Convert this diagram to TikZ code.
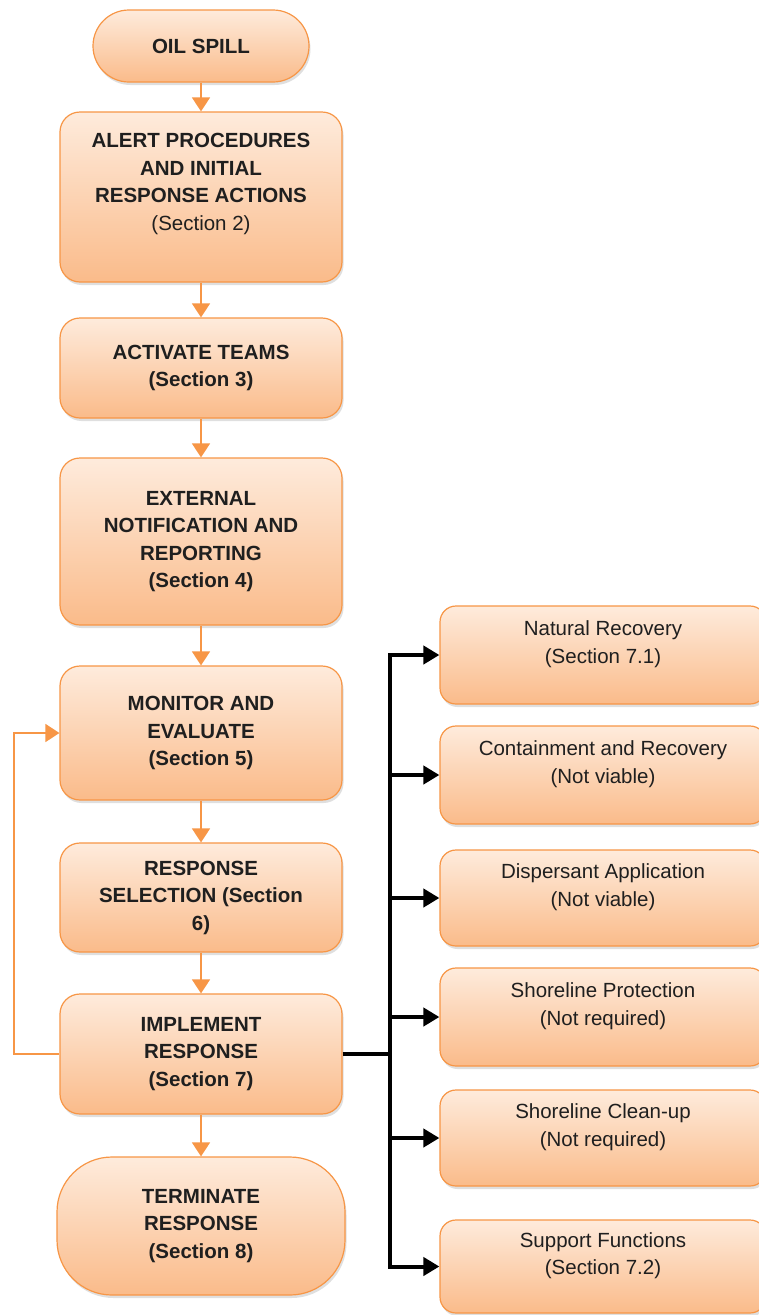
\documentclass[tikz,border=0pt]{standalone}
\usepackage{fontspec}
\setmainfont{Liberation Sans}
\usepackage{tikz}
\usetikzlibrary{shapes.geometric, arrows.meta, shadows, positioning}
\definecolor{spillorange}{RGB}{247,150,70}
\definecolor{boxtop}{RGB}{254,235,220}
\definecolor{boxbot}{RGB}{250,187,138}
\newcommand{\boxfont}{\fontsize{20.5}{27.5}\selectfont}
\tikzstyle{stepbox} = [rectangle, rounded corners=20pt, draw=spillorange, line width=1.2pt, top color=boxtop, bottom color=boxbot, minimum width=282pt, align=center, text=black!88, font=\boxfont\bfseries, drop shadow={shadow xshift=1.5pt, shadow yshift=-3pt, opacity=0.25}]
\tikzstyle{optbox} = [stepbox, rounded corners=16pt, minimum width=326pt, font=\boxfont, text depth=26pt]
\tikzstyle{flow} = [draw=spillorange, line width=1.5pt, -{Triangle[width=18pt,length=14pt]}]
\tikzstyle{branch} = [draw=black, line width=4pt, -{Triangle[width=18pt,length=16pt]}]

\begin{document}
\begin{tikzpicture}[x=1pt, y=1pt]
        \fill[white] (0,0) rectangle (758,-1315);
        \useasboundingbox (0,0) rectangle (758,-1315);
        \node[stepbox, rounded corners=36pt, minimum width=216pt, minimum height=72pt] (oil) at (201,-46) {OIL SPILL};
        \node[stepbox, minimum height=170pt, text depth=30pt] (alert) at (201,-197) {ALERT PROCEDURES\\AND INITIAL\\RESPONSE ACTIONS\\{\mdseries (Section 2)}};
        \node[stepbox, minimum height=100pt] (teams) at (201,-368) {ACTIVATE TEAMS\\(Section 3)};
        \node[stepbox, minimum height=167pt] (notify) at (201,-541.5) {EXTERNAL\\NOTIFICATION AND\\REPORTING\\(Section 4)};
        \node[stepbox, minimum height=134pt] (monitor) at (201,-733) {MONITOR AND\\EVALUATE\\(Section 5)};
        \node[stepbox, minimum height=109pt] (select) at (201,-897.5) {RESPONSE\\SELECTION (Section\\6)};
        \node[stepbox, minimum height=120pt] (implement) at (201,-1054) {IMPLEMENT\\RESPONSE\\(Section 7)};
        \node[stepbox, rounded corners=55pt, minimum width=288pt, minimum height=138pt] (terminate) at (201,-1226) {TERMINATE\\RESPONSE\\(Section 8)};

        \node[optbox, minimum height=98pt] (natrec) at (603,-655) {Natural Recovery\\(Section 7.1)};
        \node[optbox, minimum height=98pt] (contain) at (603,-775) {Containment and Recovery\\(Not viable)};
        \node[optbox, minimum height=96pt] (dispers) at (603,-898) {Dispersant Application\\(Not viable)};
        \node[optbox, minimum height=98pt] (shoreprot) at (603,-1017) {Shoreline Protection\\(Not required)};
        \node[optbox, minimum height=96pt] (shoreclean) at (603,-1138) {Shoreline Clean-up\\(Not required)};
        \node[optbox, minimum height=93pt] (support) at (603,-1266.5) {Support Functions\\(Section 7.2)};

        \foreach \a/\b in {oil/alert, alert/teams, teams/notify, notify/monitor, monitor/select, select/implement, implement/terminate}
          \draw[flow] (\a.south) -- (\b.north);
        \coordinate (loopx) at (14,0);
        \draw[flow] (implement.west) -- (implement.west -| loopx) |- (monitor.west);

        \coordinate (trunkx) at (390,0);
        \draw[line width=4pt] (implement.east) -- (implement.east -| trunkx);
        \draw[line width=4pt, line cap=rect] (natrec.west -| trunkx) -- (support.west -| trunkx);
        \foreach \n in {natrec, contain, dispers, shoreprot, shoreclean, support}
          \draw[branch] (\n.west -| trunkx) -- (\n.west);
        % \draw[red, dashed] (trunkx) -- ++(0,-1315);
\end{tikzpicture}
\end{document}
